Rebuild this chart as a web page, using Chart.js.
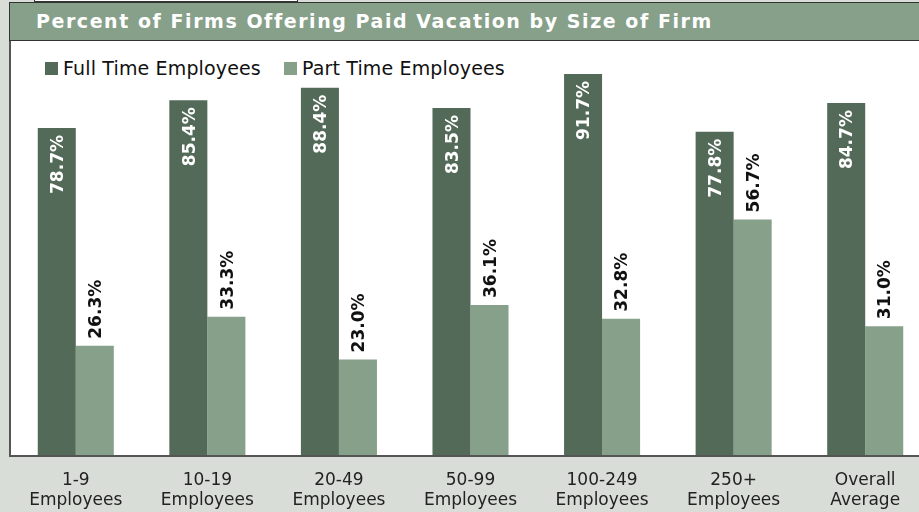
<!DOCTYPE html>
<html>
<head>
<meta charset="utf-8">
<script src="https://cdn.jsdelivr.net/npm/chart.js@4.4.0/dist/chart.umd.min.js"></script>
<style>
  html, body { margin:0; padding:0; }
  body { width:919px; height:512px; overflow:hidden; background:#d9ddd7; position:relative; font-family:"DejaVu Sans", Verdana, sans-serif; }
  #topbox { position:absolute; left:34px; top:-6px; width:262px; height:6px; background:#fff; border:1px solid #333; }
  #titlebar { position:absolute; left:9px; top:2px; width:930px; height:37px; background:#87a08a; border:1px solid #333; border-right:none; }
  #title { position:absolute; left:36px; top:10px; line-height:22px; font-size:19px; font-weight:bold; letter-spacing:1.55px; color:#fff; white-space:nowrap; }
  #panel { position:absolute; left:9px; top:41px; width:930px; height:414px; background:#fff; border-left:2px solid #555; border-bottom:2px solid #555; }
  #legend { position:absolute; left:45px; top:57px; height:22px; display:flex; align-items:center; white-space:nowrap; }
  .sw { width:13px; height:13px; margin-right:5px; margin-top:1px; }
  .lt { font-size:19px; line-height:22px; color:#111; letter-spacing:0.15px; margin-right:23px; }
  canvas { position:absolute; left:10px; top:0; }
</style>
</head>
<body>
<div id="topbox"></div>
<div id="titlebar"></div>
<div id="panel"></div>
<div id="title">Percent of Firms Offering Paid Vacation by Size of Firm</div>
<div id="legend"></div>
<canvas id="c" width="921" height="512"></canvas>
<script>
const categories = [
  ['1-9', 'Employees'],
  ['10-19', 'Employees'],
  ['20-49', 'Employees'],
  ['50-99', 'Employees'],
  ['100-249', 'Employees'],
  ['250+', 'Employees'],
  ['Overall', 'Average']
];
const seriesNames = ['Full Time Employees', 'Part Time Employees'];
const fullTime = [78.7, 85.4, 88.4, 83.5, 91.7, 77.8, 84.7];
const partTime = [26.3, 33.3, 23.0, 36.1, 32.8, 56.7, 31.0];
const colors = ['#546a59', '#87a08a'];
const labelColors = ['#ffffff', '#111111'];

// HTML legend built from the dataset names/colours
const legend = document.getElementById('legend');
seriesNames.forEach((n, i) => {
  const sw = document.createElement('div'); sw.className = 'sw'; sw.style.background = colors[i];
  const t = document.createElement('div'); t.className = 'lt'; t.textContent = n;
  legend.appendChild(sw); legend.appendChild(t);
});

const valueLabels = {
  id: 'valueLabels',
  afterDatasetsDraw(chart) {
    const ctx = chart.ctx;
    const fs = 17;
    ctx.save();
    ctx.font = 'bold ' + fs + 'px "DejaVu Sans", Verdana, sans-serif';
    ctx.textBaseline = 'alphabetic';
    chart.data.datasets.forEach((ds, di) => {
      const meta = chart.getDatasetMeta(di);
      meta.data.forEach((bar, i) => {
        const txt = ds.data[i].toFixed(1) + '%';
        ctx.save();
        ctx.fillStyle = labelColors[di];
        if (di === 0) {
          ctx.translate(bar.x, bar.y + 7);
          ctx.rotate(-Math.PI / 2);
          ctx.textAlign = 'right';
        } else {
          ctx.translate(bar.x, bar.y - 7);
          ctx.rotate(-Math.PI / 2);
          ctx.textAlign = 'left';
        }
        ctx.fillText(txt, 0, fs * 0.729 / 2);
        ctx.restore();
      });
    });
    ctx.restore();
  }
};

new Chart(document.getElementById('c'), {
  type: 'bar',
  data: {
    labels: categories,
    datasets: [
      { label: seriesNames[0], data: fullTime, backgroundColor: colors[0] },
      { label: seriesNames[1], data: partTime, backgroundColor: colors[1] }
    ]
  },
  options: {
    responsive: false,
    animation: false,
    devicePixelRatio: 1,
    layout: { padding: { top: 39.5, left: 0, right: 0, bottom: 0 } },
    datasets: { bar: { categoryPercentage: 0.578, barPercentage: 1.0 } },
    plugins: { legend: { display: false }, tooltip: { enabled: false } },
    scales: {
      x: {
        grid: { display: false, drawTicks: false },
        border: { display: false },
        ticks: {
          color: '#222',
          font: { family: '"DejaVu Sans", Verdana, sans-serif', size: 17 },
          padding: 15,
          maxRotation: 0,
          autoSkip: false
        },
        afterFit(scale) { scale.height = 57; }
      },
      y: {
        display: false,
        min: 0,
        max: 100
      }
    }
  },
  plugins: [valueLabels]
});
</script>
</body>
</html>
